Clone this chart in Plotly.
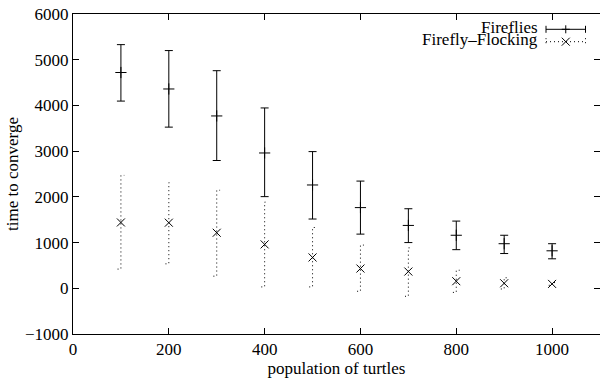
import plotly.graph_objects as go

population = [100, 200, 300, 400, 500, 600, 700, 800, 900, 1000]

fireflies_mean = [4720, 4360, 3770, 2960, 2260, 1765, 1375, 1160, 975, 820]
fireflies_upper = [5330, 5200, 4760, 3945, 2990, 2345, 1740, 1470, 1160, 975]
fireflies_lower = [4095, 3525, 2795, 2005, 1515, 1185, 1000, 845, 760, 645]

flocking_mean = [1440, 1435, 1215, 960, 675, 432, 366, 155, 110, 96]
flocking_upper = [2470, 2310, 2145, 1885, 1330, 945, 885, 395, 230, 125]
flocking_lower = [420, 535, 265, 30, 30, -65, -175, -90, -15, 65]

x_ticks = [0, 200, 400, 600, 800, 1000]
y_ticks = [-1000, 0, 1000, 2000, 3000, 4000, 5000, 6000]

FONT = "Liberation Serif, Times New Roman, serif"
FS = 17

fig = go.Figure()

# Fireflies: solid error bars with '+' markers
fig.add_trace(go.Scatter(
    x=population, y=fireflies_mean, mode="markers",
    marker=dict(symbol="cross-thin", size=8, line=dict(color="black", width=1), color="black"),
    error_y=dict(type="data", symmetric=False,
                 array=[u - m for u, m in zip(fireflies_upper, fireflies_mean)],
                 arrayminus=[m - l for m, l in zip(fireflies_mean, fireflies_lower)],
                 color="black", thickness=1, width=4),
    showlegend=False, name="Fireflies"))

# Firefly-Flocking: dotted error bars built from the data
ex, ey = [], []
cap = 7
for xv, lo, hi in zip(population, flocking_lower, flocking_upper):
    ex += [xv - cap, xv, xv, xv + cap, None]
    ey += [lo, lo, hi, hi, None]
fig.add_trace(go.Scatter(
    x=ex, y=ey, mode="lines",
    line=dict(color="black", width=1, dash="1px,3px"),
    showlegend=False, hoverinfo="skip"))
fig.add_trace(go.Scatter(
    x=population, y=flocking_mean, mode="markers",
    marker=dict(symbol="x-thin", size=8, line=dict(color="black", width=1), color="black"),
    showlegend=False, name="Firefly\u2013Flocking"))

L, R, T, B = 73, 0, 14, 46
W, H = 600, 380
pw, ph = W - L - R, H - T - B


def px(p):
    return (p - L) / pw


def py(p):
    return (H - B - p) / ph


shapes = []
annotations = []
# legend entries
leg = [("Fireflies", 29.3, "solid", "plus"), ("Firefly\u2013Flocking", 41.7, "1px,3px", "x")]
sx0, sx1 = 546, 585.5
for label, yy, dash, mk in leg:
    annotations.append(dict(xref="paper", yref="paper", x=px(539), y=py(yy - 2),
                            text=label, showarrow=False, xanchor="right", yanchor="middle",
                            borderpad=0,
                            font=dict(family=FONT, size=FS, color="black")))
    shapes.append(dict(type="line", xref="paper", yref="paper", x0=px(sx0), x1=px(sx1),
                       y0=py(yy), y1=py(yy), line=dict(color="black", width=1, dash=dash)))
    for sx in (sx0, sx1):
        shapes.append(dict(type="line", xref="paper", yref="paper", x0=px(sx), x1=px(sx),
                           y0=py(yy - 3.5), y1=py(yy + 3.5), line=dict(color="black", width=1, dash=dash)))
    cx = (sx0 + sx1) / 2
    if mk == "plus":
        shapes.append(dict(type="line", xref="paper", yref="paper", x0=px(cx - 4), x1=px(cx + 4),
                           y0=py(yy), y1=py(yy), line=dict(color="black", width=1)))
        shapes.append(dict(type="line", xref="paper", yref="paper", x0=px(cx), x1=px(cx),
                           y0=py(yy - 4), y1=py(yy + 4), line=dict(color="black", width=1)))
    else:
        shapes.append(dict(type="line", xref="paper", yref="paper", x0=px(cx - 4), x1=px(cx + 4),
                           y0=py(yy - 4), y1=py(yy + 4), line=dict(color="black", width=1)))
        shapes.append(dict(type="line", xref="paper", yref="paper", x0=px(cx - 4), x1=px(cx + 4),
                           y0=py(yy + 4), y1=py(yy - 4), line=dict(color="black", width=1)))

axis_common = dict(showline=True, linecolor="black", linewidth=1, mirror="allticks",
                   ticks="inside", ticklen=6, tickwidth=1, tickcolor="black",
                   showgrid=False, zeroline=False,
                   tickfont=dict(family=FONT, size=FS, color="black"))

fig.update_layout(
    width=W, height=H,
    margin=dict(l=L, r=R, t=T, b=B, autoexpand=False),
    paper_bgcolor="white", plot_bgcolor="white",
    font=dict(family=FONT, size=FS, color="black"),
    showlegend=False,
    shapes=shapes, annotations=annotations,
    xaxis=dict(range=[0, 1100], tickvals=x_ticks, ticktext=[str(v) for v in x_ticks],
               title=dict(text="population of turtles", standoff=0,
                          font=dict(family=FONT, size=FS, color="black")),
               **axis_common),
    yaxis=dict(range=[-1000, 6000], tickvals=y_ticks,
               ticktext=[("\u2212" + str(-v)) if v < 0 else str(v) for v in y_ticks],
               title=dict(text="time to converge", standoff=2,
                          font=dict(family=FONT, size=FS, color="black")),
               **axis_common),
)

fig.write_html("out.html", config={"displayModeBar": False},
               post_script="document.body.style.margin='0';document.body.style.padding='0';")
